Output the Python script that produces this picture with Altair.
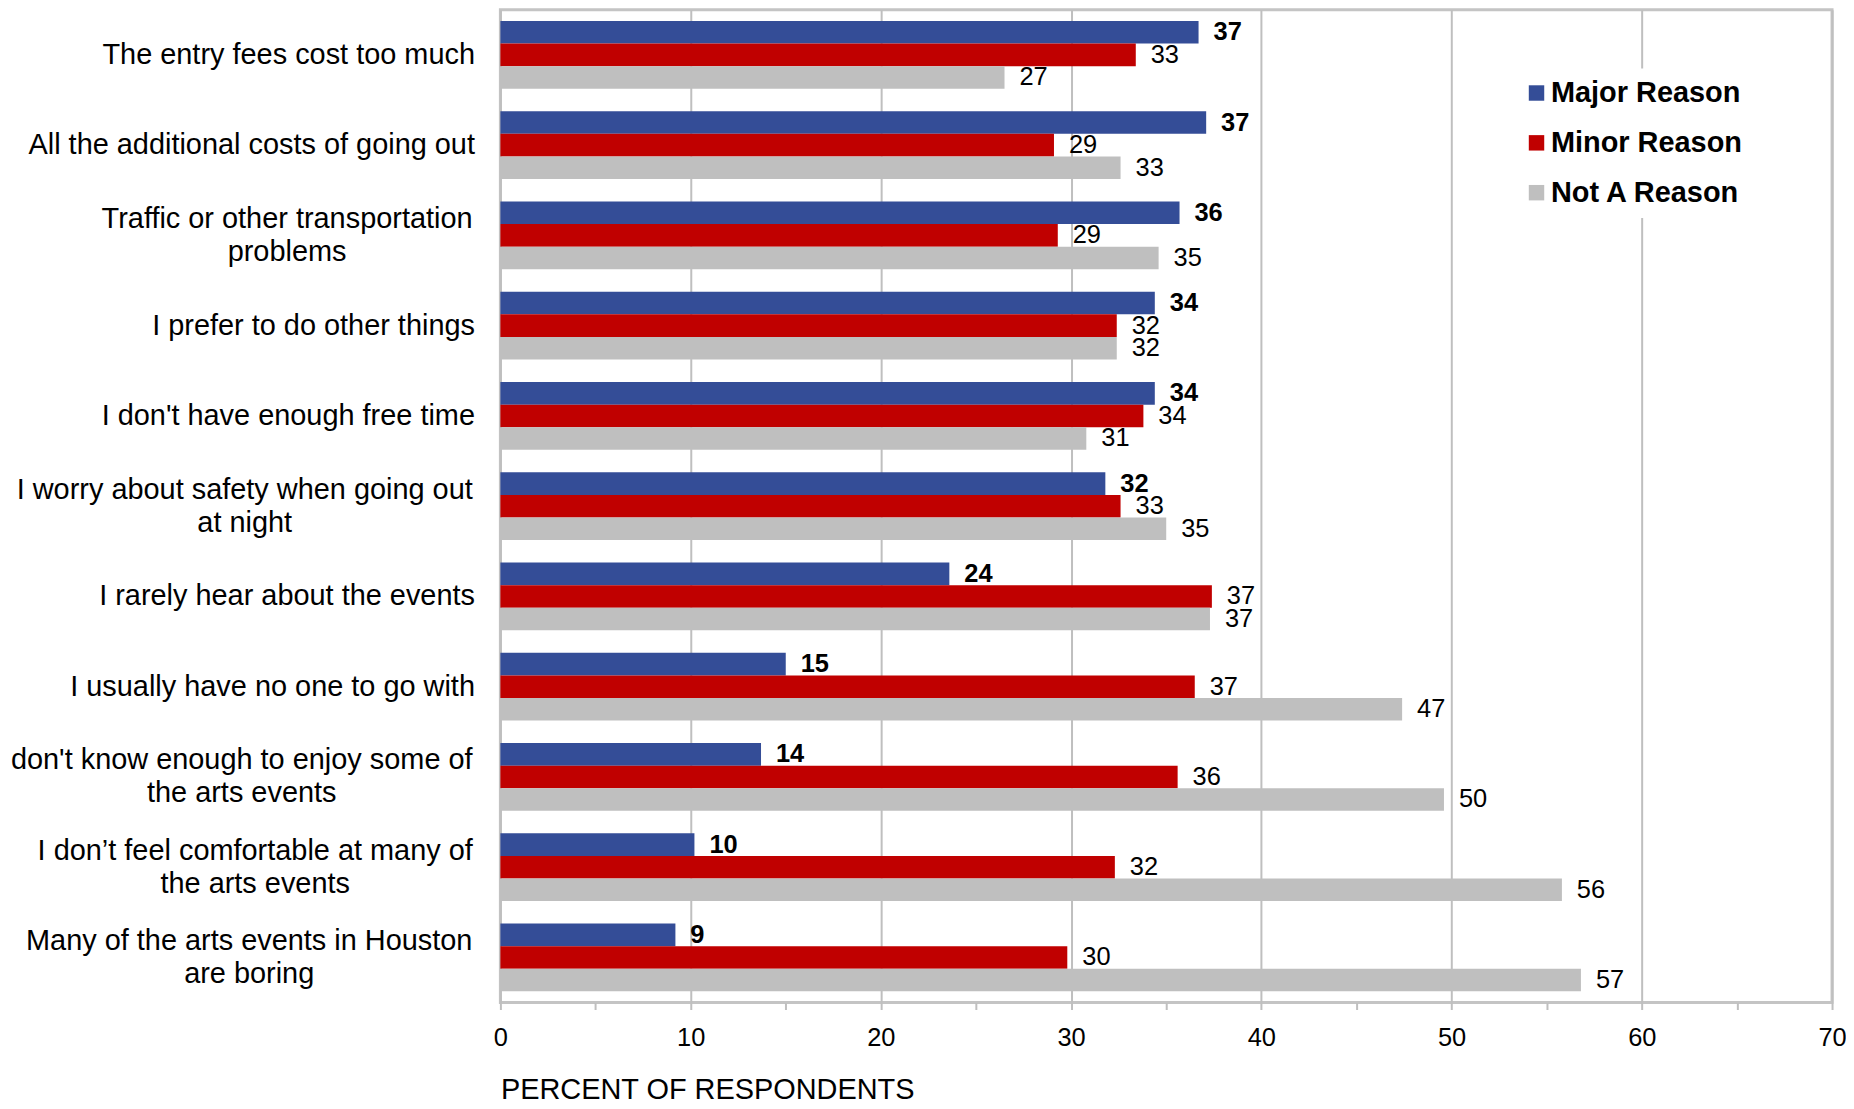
import json
import altair as alt
import pandas as pd

FONT = "Liberation Sans"

categories = [
    "The entry fees cost too much",
    "All the additional costs of going out",
    "Traffic or other transportation|problems",
    "I prefer to do other things",
    "I don't have enough free time",
    "I worry about safety when going out|at night",
    "I rarely hear about the events",
    "I usually have no one to go with",
    "don't know enough to enjoy some of|the arts events",
    "I don\u2019t feel comfortable at many of|the arts events",
    "Many of the arts events in Houston|are boring",
]
series = ["Major Reason", "Minor Reason", "Not A Reason"]
colors = ["#344D97", "#C00000", "#BFBFBF"]

major = [36.7, 37.1, 35.7, 34.4, 34.4, 31.8, 23.6, 15.0, 13.7, 10.2, 9.2]
minor = [33.4, 29.1, 29.3, 32.4, 33.8, 32.6, 37.4, 36.5, 35.6, 32.3, 29.8]
not_reason = [26.5, 32.6, 34.6, 32.4, 30.8, 35.0, 37.3, 47.4, 49.6, 55.8, 56.8]

major_lbl = [37, 37, 36, 34, 34, 32, 24, 15, 14, 10, 9]
minor_lbl = [33, 29, 29, 32, 34, 33, 37, 37, 36, 32, 30]
not_lbl = [27, 33, 35, 32, 31, 35, 37, 47, 50, 56, 57]

x_ticks = list(range(0, 75, 5))

rows = []
for i, c in enumerate(categories):
    for s, vals, lbls in zip(series, [major, minor, not_reason], [major_lbl, minor_lbl, not_lbl]):
        rows.append({"category": c, "series": s, "value": vals[i], "label": str(lbls[i])})
df = pd.DataFrame(rows)

# centre two-line category labels under their first line (half width of first line + gap)
first_line_half = {
    categories[2]: 188.5,
    categories[5]: 231.0,
    categories[8]: 234.0,
    categories[9]: 220.5,
    categories[10]: 226.5,
}
gap = 26
line_h = 33
pad_expr = "".join(
    f"datum.value === {json.dumps(k, ensure_ascii=False)} ? {gap + v} : "
    for k, v in first_line_half.items()
) + str(gap)
multi = "indexof(datum.value, '|') >= 0"

y_enc = alt.Y(
    "category:N",
    sort=categories,
    title=None,
    scale=alt.Scale(paddingInner=0.25, paddingOuter=0.125),
    axis=alt.Axis(
        labelExpr="split(datum.label, '|')",
        labelFont=FONT,
        labelFontSize=29,
        labelColor="black",
        labelLineHeight=line_h,
        labelLimit=800,
        labelPadding={"expr": pad_expr},
        labelAlign={"expr": f"{multi} ? 'center' : 'right'"},
        labelOffset={"expr": f"{multi} ? {-line_h / 2} : 0"},
        labelBaseline="middle",
        ticks=False,
        tickSize=0,
        domain=False,
        grid=False,
    ),
)
yoff_enc = alt.YOffset("series:N", sort=series, scale=alt.Scale(paddingInner=0, paddingOuter=0))

x_enc = alt.X(
    "value:Q",
    scale=alt.Scale(domain=[0, 70], nice=False),
    title="PERCENT OF RESPONDENTS",
    axis=alt.Axis(
        values=x_ticks,
        labelExpr="datum.value % 10 === 0 ? datum.label : ''",
        labelFont=FONT,
        labelFontSize=25.5,
        labelColor="black",
        labelPadding=16,
        labelFlush=False,
        labelOverlap=False,
        tickSize=7,
        tickColor="#BFBFBF",
        tickWidth=2,
        domain=False,
        grid=True,
        gridColor={"condition": {"test": "datum.value % 10 === 0", "value": "#BFBFBF"}, "value": "rgba(0,0,0,0)"},
        gridWidth=2,
        titleFont=FONT,
        titleFontSize=29,
        titleFontWeight="normal",
        titleColor="black",
        titleAnchor="start",
        titleAlign="left",
        titlePadding=25,
    ),
)

bars = alt.Chart(df).mark_bar().encode(
    x=x_enc,
    y=y_enc,
    yOffset=yoff_enc,
    color=alt.Color(
        "series:N",
        sort=series,
        scale=alt.Scale(domain=series, range=colors),
        legend=alt.Legend(
            title=None,
            orient="none",
            legendX=1015,
            legendY=59,
            symbolType="square",
            symbolSize=240,
            symbolStrokeWidth=0,
            labelFont=FONT,
            labelFontSize=29,
            labelFontWeight="bold",
            labelColor="black",
            labelLimit=400,
            labelOffset=0,
            rowPadding=20,
            fillColor="white",
            padding=10,
        ),
    ),
)

lab_major = alt.Chart(df).transform_filter(alt.datum.series == "Major Reason").mark_text(
    align="left", baseline="middle", dx=15, font=FONT, fontSize=25.5, fontWeight="bold", color="black"
).encode(x=x_enc, y=y_enc, yOffset=yoff_enc, text="label:N")

lab_other = alt.Chart(df).transform_filter(alt.datum.series != "Major Reason").mark_text(
    align="left", baseline="middle", dx=15, font=FONT, fontSize=25.5, color="black"
).encode(x=x_enc, y=y_enc, yOffset=yoff_enc, text="label:N")

chart = (
    alt.layer(bars, lab_major, lab_other)
    .properties(
        width=1336,
        height=996,
        padding={"left": 494, "top": 0, "right": 14, "bottom": 97},
        autosize=alt.AutoSizeParams(type="none"),
        background="white",
    )
    .configure_view(stroke="#C4C4C4", strokeWidth=3)
)

chart.save("out.html", embed_options={"renderer": "svg", "actions": False})
